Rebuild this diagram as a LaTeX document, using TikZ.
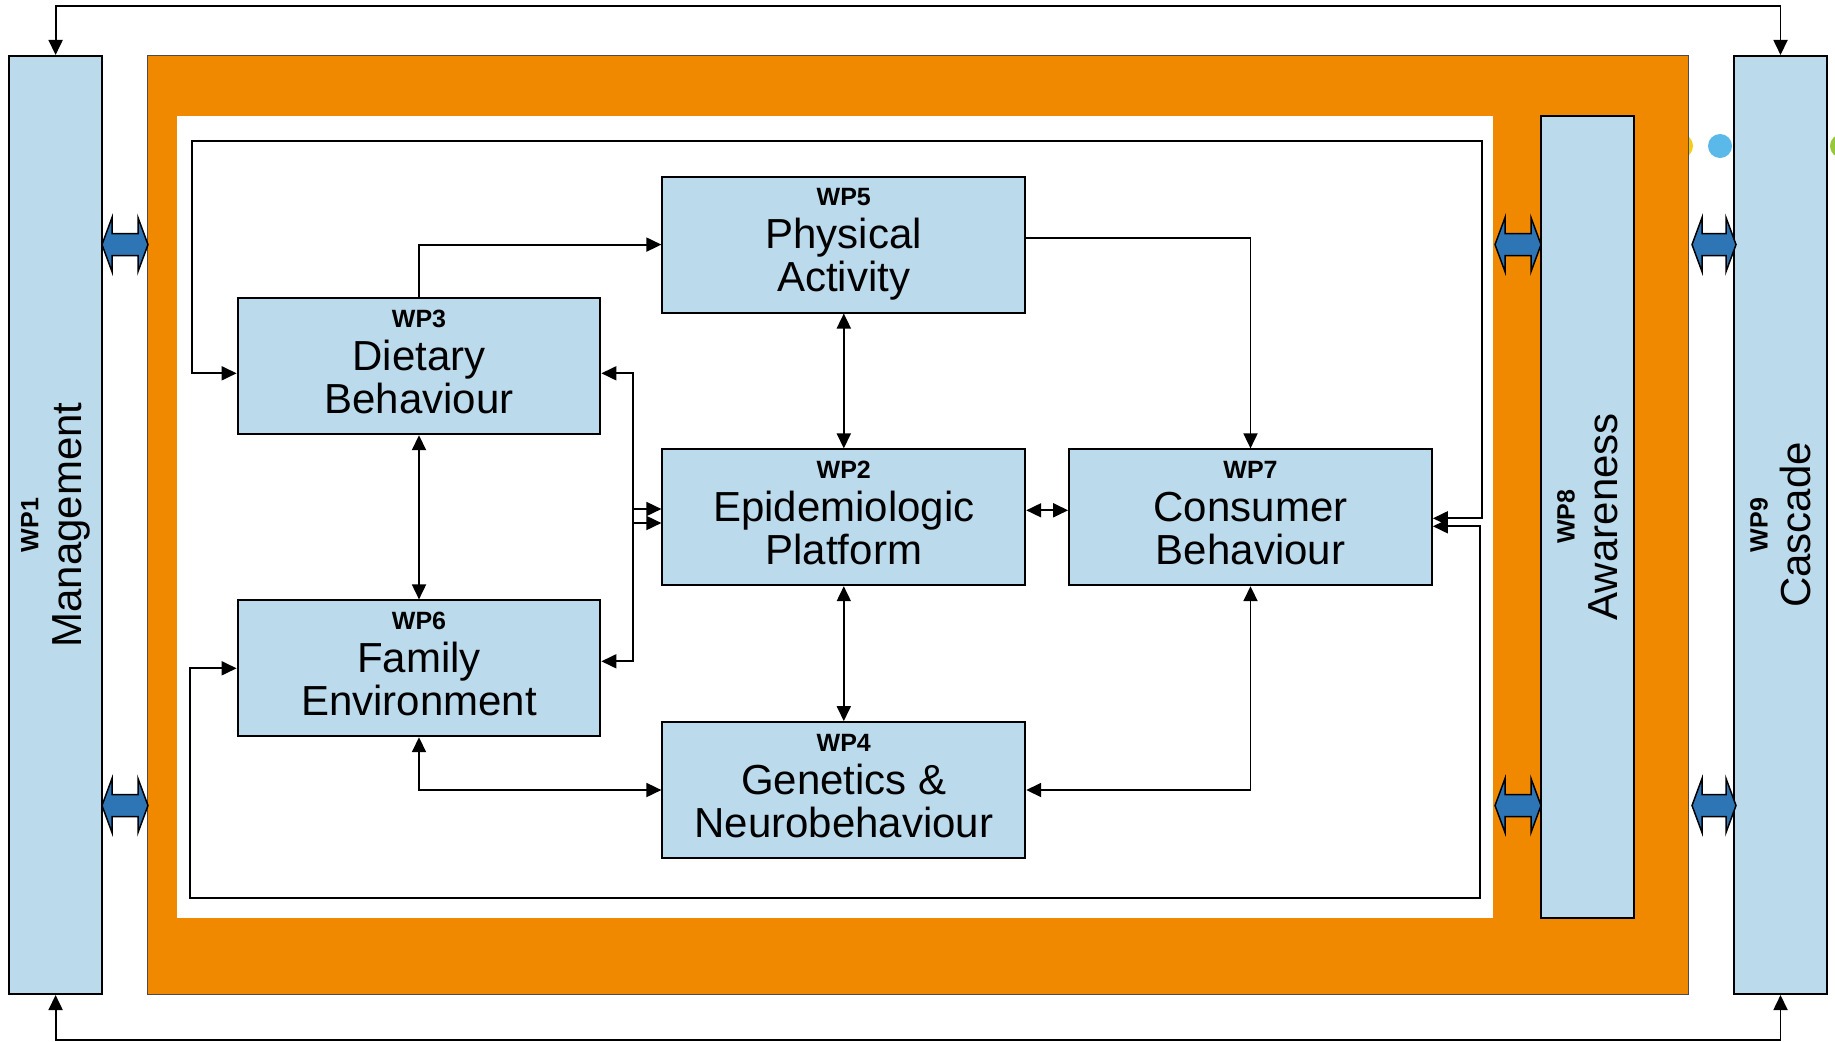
\documentclass[tikz,border=0pt]{standalone}
\usepackage{fontspec}
\setmainfont{Liberation Sans}
\usetikzlibrary{arrows.meta}
\definecolor{wpblue}{RGB}{187,218,236}
\definecolor{frameorange}{RGB}{240,137,0}
\definecolor{fatblue}{RGB}{46,117,182}
\definecolor{dotyellow}{RGB}{245,205,20}
\definecolor{dotblue}{RGB}{90,185,232}
\definecolor{dotgreen}{RGB}{150,200,60}
\tikzset{
  wpbox/.style={draw, line width=2pt, fill=wpblue, minimum width=362.8pt, minimum height=135.8pt,
    inner sep=0pt, align=center, font=\fontsize{42}{43}\selectfont},
  sidebox/.style={draw, line width=2pt, fill=wpblue, inner sep=0pt},
  sidelabel/.style={rotate=90, align=center, inner sep=0pt, font=\fontsize{42}{43}\selectfont},
  conn/.style={line width=1.8pt, draw=black},
  arr/.style={-{Triangle[length=15pt,width=14pt]}},
  darr/.style={{Triangle[length=15pt,width=14pt]}-{Triangle[length=15pt,width=14pt]}},
  fat/.style={fill=fatblue, draw=black, line width=1.5pt, line join=miter}
}
\newcommand\wpl[1]{{\fontsize{25}{43}\selectfont\bfseries #1}}
\newcommand\fatarrow[3]{% xL xR yc
  \path[fat] (#1,#3) -- (#1+10,#3-27) -- (#1+10,#3-11) -- (#2-10,#3-11) -- (#2-10,#3-27)
    -- (#2,#3) -- (#2-10,#3+27) -- (#2-10,#3+11) -- (#1+10,#3+11) -- (#1+10,#3+27) -- cycle;}
\begin{document}
\begin{tikzpicture}[x=1pt,y=-1pt]
\useasboundingbox (0,0) rectangle (1835,1041);
\fill[white] (0,0) rectangle (1835,1041);
% decorative dots
\fill[dotyellow] (1681,146) circle (12);
\fill[dotblue] (1720,146) circle (12);
\fill[dotgreen] (1842,146) circle (12);
% frame
\path[fill=frameorange, draw=black!70, line width=1pt] (147.5,56) rectangle (1688.7,994);
\fill[white] (176.7,116) rectangle (1493.3,917.5);
% side boxes
\node[sidebox, minimum width=92.4pt, minimum height=938pt] (wp1) at (55.6,525) {};
\node[sidebox, minimum width=93pt, minimum height=801.5pt] (wp8) at (1587.5,516.75) {};
\node[sidebox, minimum width=93pt, minimum height=938pt] (wp9) at (1780.5,525) {};
\node[sidelabel] (wp1t) at (wp1.center) {\wpl{WP1}\\Management};
\node[sidelabel] (wp8t) at (wp8.center) {\wpl{WP8}\\Awareness};
\node[sidelabel] (wp9t) at (wp9.center) {\wpl{WP9}\\Cascade};
% work package boxes
\node[wpbox] (wp5) at (843.8,244.6) {\wpl{WP5}\\Physical\\Activity\vphantom{y}};
\node[wpbox] (wp3) at (419,366.3) {\wpl{WP3}\\Dietary\\Behaviour\vphantom{y}};
\node[wpbox] (wp2) at (843.8,517.3) {\wpl{WP2}\\Epidemiologic\\Platform\vphantom{y}};
\node[wpbox] (wp7) at (1250.5,517.3) {\wpl{WP7}\\Consumer\\Behaviour\vphantom{y}};
\node[wpbox] (wp6) at (419,668.3) {\wpl{WP6}\\Family\\Environment\vphantom{y}};
\node[wpbox] (wp4) at (843.8,790) {\wpl{WP4}\\Genetics \&\\Neurobehaviour\vphantom{y}};
% coordinates
\coordinate (tl) at (192,141);
\coordinate (tr) at (1482,141);
\coordinate (bl) at (190,898);
\coordinate (br) at (1480,898);
\coordinate (b1) at (633,509);
\coordinate (b2) at (633,523);
% connectors
\draw[conn,arr] (wp3.north) |- (wp5.west);
\draw[conn,arr] ([yshift=7pt]wp5.east) -| (wp7.north);
\draw[conn,darr] (wp5.south) -- (wp2.north);
\draw[conn,darr] (wp2.south) -- (wp4.north);
\draw[conn,darr] (wp3.south) -- (wp6.north);
\draw[conn,darr] ([yshift=7pt]wp2.east) -- ([yshift=7pt]wp7.west);
\draw[conn,darr] (wp6.south) |- (wp4.west);
\draw[conn,darr] (wp7.south) |- (wp4.east);
\draw[conn,darr] ([yshift=-7pt]wp3.east) -| (b1) -- (b2) |- ([yshift=7pt]wp6.east);
\draw[conn,arr] (b1) -- (b1 -| wp2.west);
\draw[conn,arr] (b2) -- (b2 -| wp2.west);
\draw[conn,darr] ([yshift=-7pt]wp3.west) -| (tl) -- (tr) |- ([yshift=-1pt]wp7.east);
\draw[conn,darr] (wp6.west) -| (bl) -- (br) |- ([yshift=-9pt]wp7.east);
\draw[conn,darr] (wp1.north) -- ++(0,-49) -| (wp9.north);
\draw[conn,darr] (wp1.south) -- ++(0,45) -| (wp9.south);
% fat double arrows
\fatarrow{102}{148}{244.6}
\fatarrow{102}{148}{805.5}
\fatarrow{1495}{1541}{244.6}
\fatarrow{1495}{1541}{805.5}
\fatarrow{1692}{1736}{244.6}
\fatarrow{1692}{1736}{805.5}
\end{tikzpicture}
\end{document}
